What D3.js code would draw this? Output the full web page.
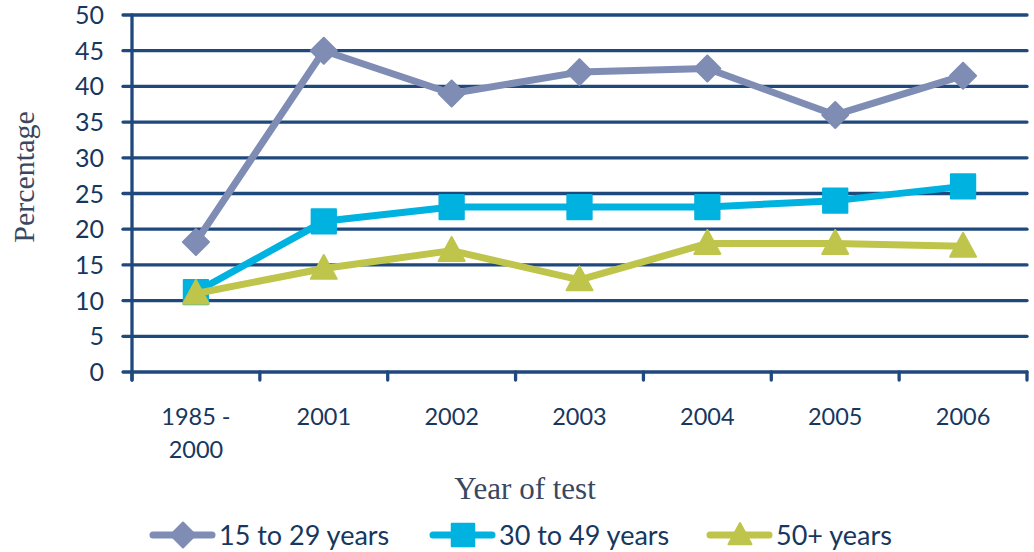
<!DOCTYPE html>
<html><head><meta charset="utf-8">
<script src="https://cdn.jsdelivr.net/npm/d3@7"></script>
<style>
html,body{margin:0;padding:0;background:#fff;}
svg{display:block;}
</style></head>
<body>
<svg id="chart" width="1034" height="552"></svg>
<script>
const categories = ["1985 -\n2000", "2001", "2002", "2003", "2004", "2005", "2006"];
const seriesNames = ["15 to 29 years", "30 to 49 years", "50+ years"];
const age15to29 = [18.2, 45, 39, 42, 42.5, 36, 41.5];
const age30to49 = [11.2, 21.1, 23.1, 23.1, 23.1, 24, 26];
const age50plus = [11, 14.5, 17, 12.9, 18, 18, 17.6];
const yTicks = [0, 5, 10, 15, 20, 25, 30, 35, 40, 45, 50];

const colors = ["#7F8DB4", "#00B2E0", "#BFC54B"];
const shapes = ["diamond", "square", "triangle"];
const navy = "#1F497D";
const textCol = "#17375E";
const titleCol = "#394760";
const series = [age15to29, age30to49, age50plus];

const svg = d3.select("#chart");
const pLeft = 132, pRight = 1027, pTop = 15, pBottom = 372;

const x = d3.scaleBand().domain(categories).range([pLeft, pRight]).padding(0);
const y = d3.scaleLinear().domain([0, 50]).range([pBottom, pTop]);

// gridlines
svg.append("g").selectAll("line").data(yTicks).join("line")
  .attr("x1", pLeft - 9).attr("x2", pRight)
  .attr("y1", d => y(d)).attr("y2", d => y(d))
  .attr("stroke", navy).attr("stroke-width", 3.3).attr("stroke-linecap", "round");

// y axis line
svg.append("line").attr("x1", pLeft).attr("x2", pLeft).attr("y1", pTop).attr("y2", pBottom + 8)
  .attr("stroke", navy).attr("stroke-width", 3.3).attr("stroke-linecap", "round");

// x tick marks
const xb = categories.map(c => x(c)).concat([pRight]);
svg.append("g").selectAll("line").data(xb).join("line")
  .attr("x1", d => d).attr("x2", d => d).attr("y1", pBottom).attr("y2", pBottom + 8)
  .attr("stroke", navy).attr("stroke-width", 3.3).attr("stroke-linecap", "round");

// y tick labels
svg.append("g").selectAll("text").data(yTicks).join("text")
  .attr("x", 104).attr("y", d => y(d)).attr("dy", "0.36em")
  .attr("text-anchor", "end")
  .attr("font-family", "Lato, 'Open Sans', sans-serif").attr("font-size", 25)
  .attr("fill", textCol).text(d => d);

// x tick labels
const xl = svg.append("g").selectAll("text").data(categories).join("text")
  .attr("text-anchor", "middle")
  .attr("font-family", "Lato, 'Open Sans', sans-serif").attr("font-size", 23.5)
  .attr("fill", textCol);
xl.each(function(d) {
  const lines = d.split("\n");
  const t = d3.select(this);
  lines.forEach((ln, i) => {
    t.append("tspan").attr("x", x(d) + x.bandwidth() / 2).attr("y", 425 + i * 33).text(ln);
  });
});

// axis titles
svg.append("text").attr("transform", "translate(34,177) rotate(-90)")
  .attr("text-anchor", "middle").attr("font-family", "'Liberation Serif', 'DejaVu Serif', serif")
  .attr("font-size", 30).attr("fill", titleCol).text("Percentage");
svg.append("text").attr("x", 525).attr("y", 499)
  .attr("text-anchor", "middle").attr("font-family", "'Liberation Serif', 'DejaVu Serif', serif")
  .attr("font-size", 31).attr("fill", titleCol).text("Year of test");

function markerPath(shape, s) {
  if (shape === "diamond") return `M0,${-s*0.5} L${s*0.5},0 L0,${s*0.5} L${-s*0.5},0 Z`;
  if (shape === "square") return `M${-s*0.45},${-s*0.45} h${s*0.9} v${s*0.9} h${-s*0.9} Z`;
  return `M0,${-s*0.52} L${s*0.5},${s*0.4} L${-s*0.5},${s*0.4} Z`;
}

const line = d3.line().x((d, i) => x(categories[i]) + x.bandwidth() / 2).y(d => y(d));

series.forEach((vals, k) => {
  const g = svg.append("g");
  g.append("path").datum(vals).attr("d", line).attr("fill", "none")
    .attr("stroke", colors[k]).attr("stroke-width", 7).attr("stroke-linejoin", "round");
  g.selectAll("path.m").data(vals).join("path").attr("class", "m")
    .attr("transform", (d, i) => `translate(${x(categories[i]) + x.bandwidth() / 2},${y(d)})`)
    .attr("d", markerPath(shapes[k], shapes[k] === "square" ? 27 : 26))
    .attr("fill", colors[k]).attr("stroke", colors[k]).attr("stroke-width", 2).attr("stroke-linejoin", "round");
});

// legend
const legX = [150, 430, 707];
const legY = 535;
seriesNames.forEach((name, k) => {
  const g = svg.append("g");
  g.append("line").attr("x1", legX[k] + 3).attr("x2", legX[k] + 62).attr("y1", legY).attr("y2", legY)
    .attr("stroke", colors[k]).attr("stroke-width", 7).attr("stroke-linecap", "round");
  g.append("path").attr("transform", `translate(${legX[k] + 33},${legY})`)
    .attr("d", markerPath(shapes[k], shapes[k] === "triangle" ? 23 : 25)).attr("fill", colors[k]).attr("stroke", colors[k]).attr("stroke-width", 2).attr("stroke-linejoin", "round");
  g.append("text").attr("x", legX[k] + 69).attr("y", legY).attr("dy", "0.36em")
    .attr("font-family", "Lato, 'Open Sans', sans-serif").attr("font-size", 27)
    .attr("fill", textCol).text(name);
});
</script>
</body></html>
